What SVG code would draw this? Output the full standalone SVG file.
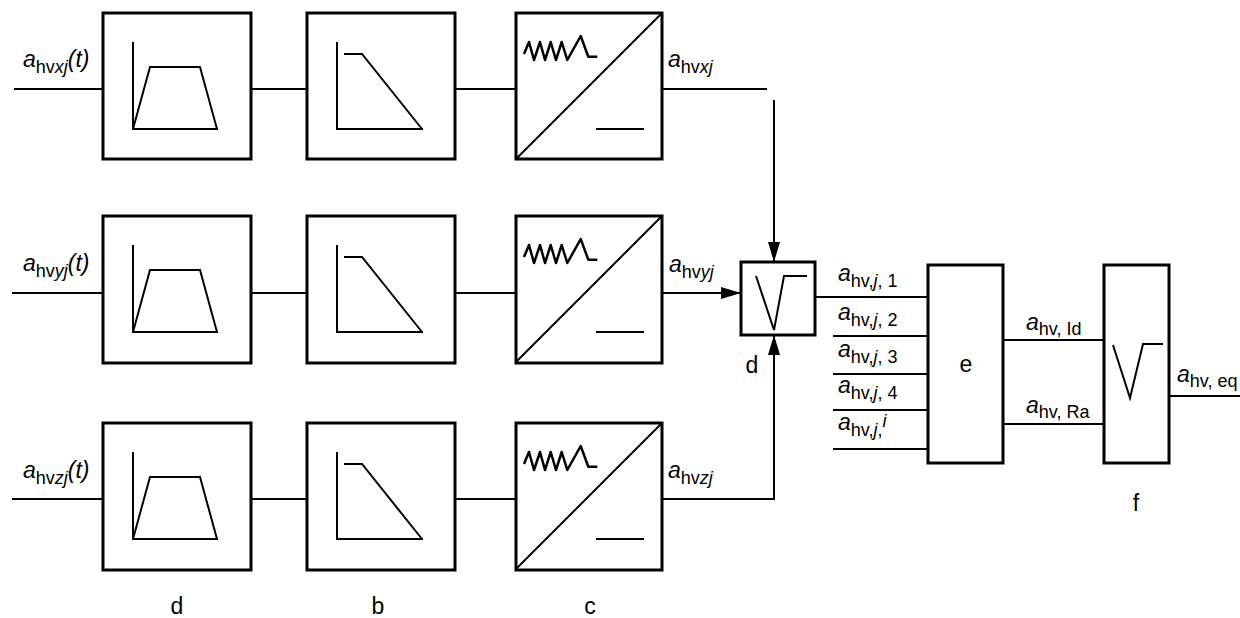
<svg xmlns="http://www.w3.org/2000/svg" xmlns:xlink="http://www.w3.org/1999/xlink" width="1240" height="618" viewBox="0 0 1240 618">
<style>
.box{fill:#fff;stroke:#000;stroke-width:3}
.ln{fill:none;stroke:#000;stroke-width:2}
.ic{fill:none;stroke:#000;stroke-width:2;stroke-linejoin:miter}
.zz{fill:none;stroke:#000;stroke-width:2.5;stroke-linejoin:round}
.t{font-family:"Liberation Sans",Arial,sans-serif;font-size:23px;fill:#000}
.s{font-size:18px}
.i{font-style:italic}
</style>
<defs>
<marker id="arr" viewBox="0 0 20 12" refX="20" refY="6" markerWidth="20" markerHeight="12" markerUnits="userSpaceOnUse" orient="auto">
<path d="M0,0 L20,6 L0,12 z" fill="#000"/>
</marker>
<g id="iconA">
<path class="ic" d="M30,29 V116 H115 M30,116 L47,54 H97 L114,116"/>
</g>
<g id="iconB">
<path class="ic" d="M30,29 V116 H116 M37,41 H55 L115,116"/>
</g>
<g id="iconC">
<path class="ic" d="M0,146 L146,0 M80,116 H128" stroke-width="2.5"/>
<path class="zz" d="M8,41 L13,29 L18,47 L24,29 L29,47 L34.7,29 L40,47 L45.7,29 L51.3,47 L64.7,23 L72.3,43.7 H81.3"/>
</g>
</defs>

<g id="connectors">
<path class="ln" d="M14,89 H103 M251,89 H307 M455,89 H516 M662,89 H767"/>
<path class="ln" d="M774,100 V262" marker-end="url(#arr)"/>
<path class="ln" d="M12,293 H103 M251,293 H307 M455,293 H516"/>
<path class="ln" d="M662,293 H741" marker-end="url(#arr)"/>
<path class="ln" d="M12,499 H103 M251,499 H307 M455,499 H516"/>
<path class="ln" d="M662,499 H774 V335" marker-end="url(#arr)"/>
<path class="ln" d="M815,297 H928 M833,336 H928 M833,374 H928 M833,410 H928 M833,449 H928"/>
<path class="ln" d="M1003,340 H1104 M1003,424 H1104 M1169,396 H1240"/>
</g>

<g id="a-x"><rect class="box" x="103" y="13" width="148" height="146"/><use xlink:href="#iconA" x="103" y="13"/></g>
<g id="b-x"><rect class="box" x="307" y="13" width="148" height="146"/><use xlink:href="#iconB" x="307" y="13"/></g>
<g id="c-x"><rect class="box" x="516" y="13" width="146" height="146"/><use xlink:href="#iconC" x="516" y="13"/></g>

<g id="a-y"><rect class="box" x="103" y="216" width="148" height="147"/><use xlink:href="#iconA" x="103" y="216"/></g>
<g id="b-y"><rect class="box" x="307" y="216" width="148" height="147"/><use xlink:href="#iconB" x="307" y="216"/></g>
<g id="c-y"><rect class="box" x="516" y="216" width="146" height="147"/><use xlink:href="#iconC" x="516" y="216"/></g>

<g id="a-z"><rect class="box" x="103" y="423" width="148" height="147"/><use xlink:href="#iconA" x="103" y="423"/></g>
<g id="b-z"><rect class="box" x="307" y="423" width="148" height="147"/><use xlink:href="#iconB" x="307" y="423"/></g>
<g id="c-z"><rect class="box" x="516" y="423" width="146" height="147"/><use xlink:href="#iconC" x="516" y="423"/></g>

<g id="d-node"><rect class="box" x="741" y="262" width="74" height="73"/><path class="ic" d="M756,276 L774,330 L784,276 H807"/>
<text class="t" x="752" y="373" text-anchor="middle">d</text></g>

<g id="e-node"><rect class="box" x="928" y="265" width="75" height="198"/>
<text class="t" x="966" y="372" text-anchor="middle">e</text></g>

<g id="f-node"><rect class="box" x="1104" y="265" width="65" height="198"/><path class="ic" d="M1113,345 L1130,398 L1143,344 H1163"/>
<text class="t" x="1136" y="511" text-anchor="middle">f</text></g>

<g id="labels">
<text class="t" x="23" y="67"><tspan class="i">a</tspan><tspan class="s" dy="6">hv</tspan><tspan class="s i">xj</tspan><tspan class="i" dy="-6">(t)</tspan></text>
<text class="t" x="23" y="271"><tspan class="i">a</tspan><tspan class="s" dy="6">hv</tspan><tspan class="s i">yj</tspan><tspan class="i" dy="-6">(t)</tspan></text>
<text class="t" x="23" y="478"><tspan class="i">a</tspan><tspan class="s" dy="6">hv</tspan><tspan class="s i">zj</tspan><tspan class="i" dy="-6">(t)</tspan></text>

<text class="t" x="668" y="67"><tspan class="i">a</tspan><tspan class="s" dy="6">hv</tspan><tspan class="s i">xj</tspan></text>
<text class="t" x="669" y="272"><tspan class="i">a</tspan><tspan class="s" dy="6">hv</tspan><tspan class="s i">yj</tspan></text>
<text class="t" x="668" y="478"><tspan class="i">a</tspan><tspan class="s" dy="6">hv</tspan><tspan class="s i">zj</tspan></text>

<text class="t" x="838" y="281"><tspan class="i">a</tspan><tspan class="s" dy="6">hv,</tspan><tspan class="s i">j</tspan><tspan class="s">, 1</tspan></text>
<text class="t" x="838" y="320"><tspan class="i">a</tspan><tspan class="s" dy="6">hv,</tspan><tspan class="s i">j</tspan><tspan class="s">, 2</tspan></text>
<text class="t" x="838" y="357"><tspan class="i">a</tspan><tspan class="s" dy="6">hv,</tspan><tspan class="s i">j</tspan><tspan class="s">, 3</tspan></text>
<text class="t" x="838" y="393"><tspan class="i">a</tspan><tspan class="s" dy="6">hv,</tspan><tspan class="s i">j</tspan><tspan class="s">, 4</tspan></text>
<text class="t" x="838" y="430"><tspan class="i">a</tspan><tspan class="s" dy="6">hv,</tspan><tspan class="s i">j</tspan><tspan class="s">,</tspan><tspan class="s i" font-size="13" dy="-9">i</tspan></text>

<text class="t" x="1026" y="330"><tspan class="i">a</tspan><tspan class="s" dy="5">hv, Id</tspan></text>
<text class="t" x="1026" y="413"><tspan class="i">a</tspan><tspan class="s" dy="5">hv, Ra</tspan></text>
<text class="t" x="1177" y="382"><tspan class="i">a</tspan><tspan class="s" dy="5">hv, eq</tspan></text>

<text class="t" x="177" y="614" text-anchor="middle">d</text>
<text class="t" x="378" y="614" text-anchor="middle">b</text>
<text class="t" x="590" y="614" text-anchor="middle">c</text>
</g>
</svg>
